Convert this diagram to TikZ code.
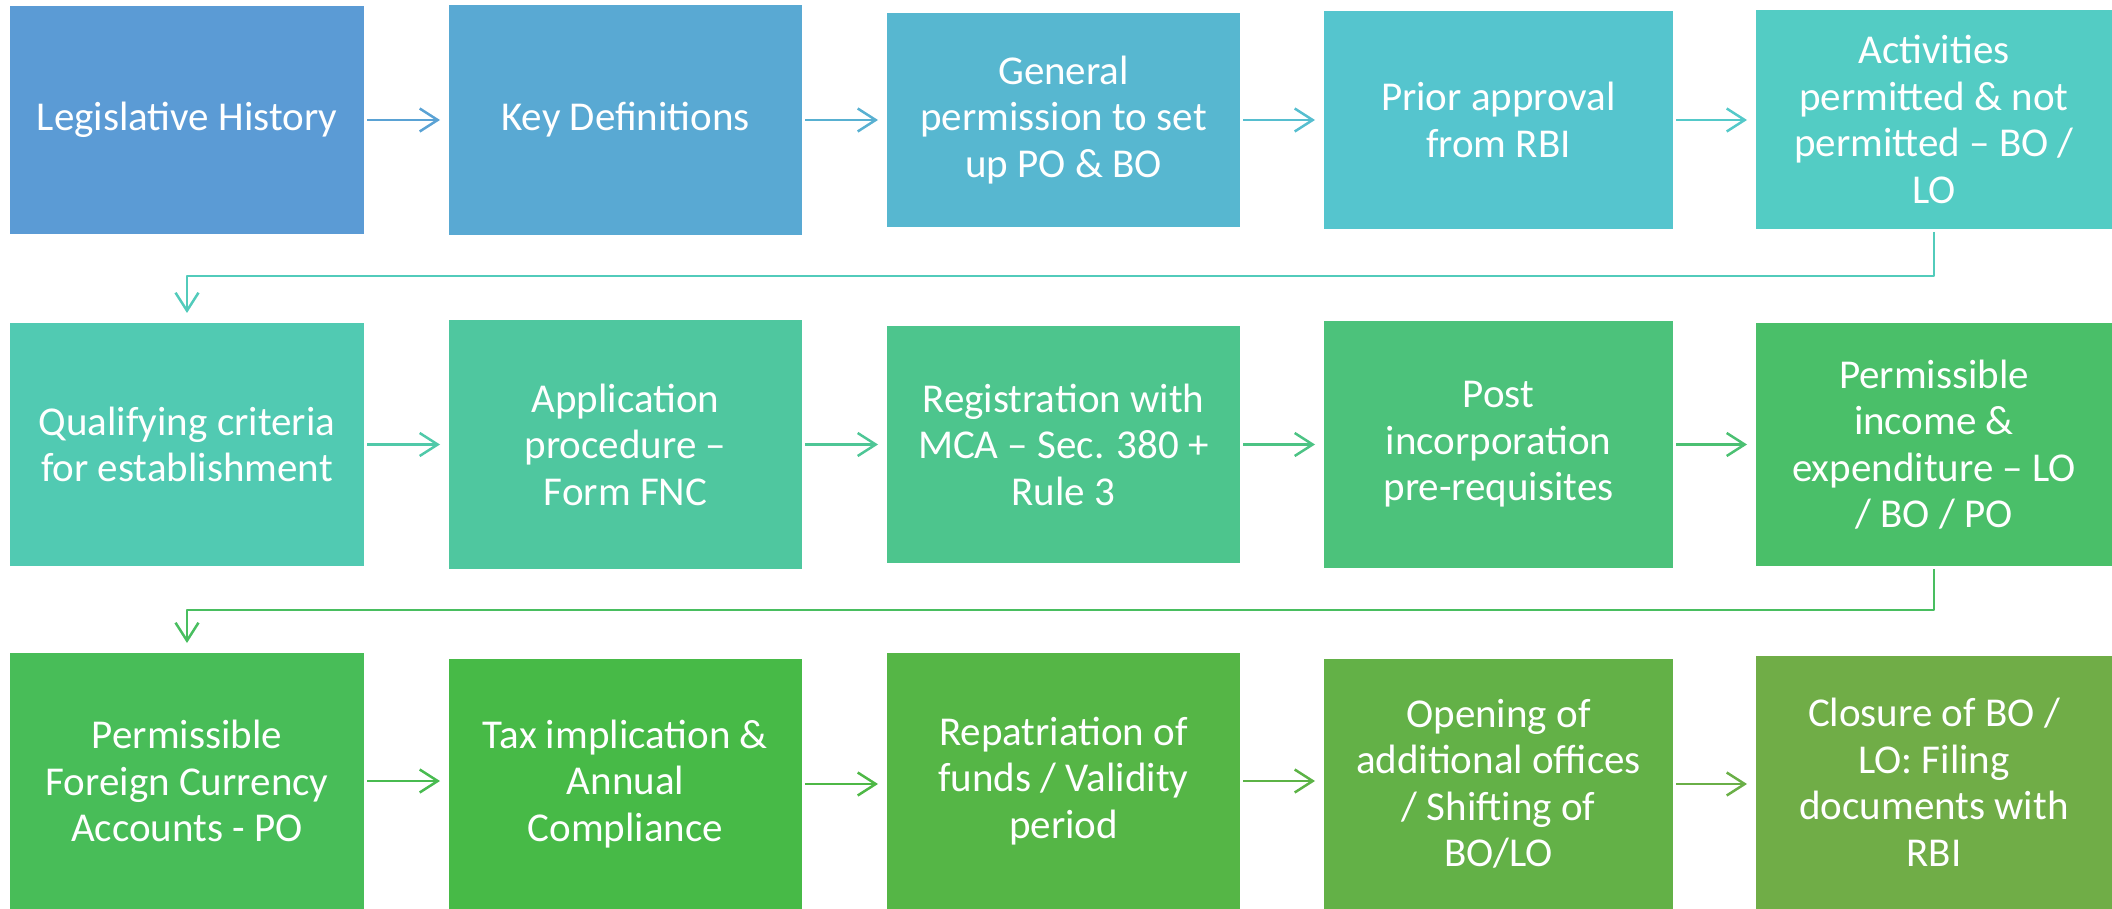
\documentclass[tikz,border=0pt]{standalone}
\usepackage{fontspec}
\setmainfont{Carlito}
\usetikzlibrary{arrows.meta}
\definecolor{c0}{HTML}{5B9BD5}
\definecolor{c1}{HTML}{59A9D3}
\definecolor{c2}{HTML}{57B7D0}
\definecolor{c3}{HTML}{55C5CE}
\definecolor{c4}{HTML}{53CCC4}
\definecolor{c5}{HTML}{51CAB2}
\definecolor{c6}{HTML}{4FC79F}
\definecolor{c7}{HTML}{4DC58D}
\definecolor{c8}{HTML}{4CC27B}
\definecolor{c9}{HTML}{4ABF69}
\definecolor{c10}{HTML}{48BD58}
\definecolor{c11}{HTML}{47BA47}
\definecolor{c12}{HTML}{55B646}
\definecolor{c13}{HTML}{63B147}
\definecolor{c14}{HTML}{70AD47}
\begin{document}
\begin{tikzpicture}[x=1pt,y=-1pt,
  box/.style={rectangle, inner sep=0pt, outer sep=0pt, text=white, align=center,
    font=\fontsize{41}{46.5}\selectfont},
  conn/.style={line width=2.5pt, line join=round,
    -{Straight Barb[length=18pt,width=23pt,line width=2.5pt]},
    shorten <=3pt, shorten >=9pt}]
\useasboundingbox (0,0) rectangle (2112,909);
% row 1
\node[box, fill=c0, minimum width=354pt, minimum height=228pt] (b1) at (187,120) {Legislative History};
\node[box, fill=c1, minimum width=353pt, minimum height=230pt] (b2) at (625.5,120) {Key Definitions};
\node[box, fill=c2, minimum width=353pt, minimum height=214pt] (b3) at (1063.5,120) {General\\permission to set\\up PO \& BO};
\node[box, fill=c3, minimum width=349pt, minimum height=218pt] (b4) at (1498.5,120) {Prior approval\\from RBI};
\node[box, fill=c4, minimum width=356pt, minimum height=219pt] (b5) at (1934,119.5) {Activities\\permitted \& not\\permitted – BO /\\LO};
% row 2
\node[box, fill=c5, minimum width=354pt, minimum height=243pt] (c1) at (187,444.5) {Qualifying criteria\\for establishment};
\node[box, fill=c6, minimum width=353pt, minimum height=249pt] (c2) at (625.5,444.5) {Application\\procedure –\\Form FNC};
\node[box, fill=c7, minimum width=353pt, minimum height=237pt] (c3) at (1063.5,444.5) {Registration with\\MCA – Sec. 380 +\\Rule 3};
\node[box, fill=c8, minimum width=349pt, minimum height=247pt] (c4) at (1498.5,444.5) {Post\\incorporation\\pre-requisites};
\node[box, fill=c9, minimum width=356pt, minimum height=243pt] (c5) at (1934,444.5) {Permissible\\income \&\\expenditure – LO\\/ BO / PO};
% row 3
\node[box, fill=c10, minimum width=354pt, minimum height=256pt] (d1) at (187,781) {Permissible\\Foreign Currency\\Accounts - PO};
\node[box, fill=c11, minimum width=353pt, minimum height=250pt] (d2) at (625.5,784) {Tax implication \&\\Annual\\Compliance};
\node[box, fill=c12, minimum width=353pt, minimum height=256pt] (d3) at (1063.5,781) {Repatriation of\\funds / Validity\\period};
\node[box, fill=c13, minimum width=349pt, minimum height=250pt] (d4) at (1498.5,784) {Opening of\\additional offices\\/ Shifting of\\BO/LO};
\node[box, fill=c14, minimum width=356pt, minimum height=253pt] (d5) at (1934,782.5) {Closure of BO /\\LO: Filing\\documents with\\RBI};
% turn levels
\coordinate (t1) at (0,276);
\coordinate (t2) at (0,610);
% row 1 arrows
\draw[conn, draw=c0!50!c1] (b1.east) -- (b1.east -| b2.west);
\draw[conn, draw=c1!50!c2] (b2.east) -- (b2.east -| b3.west);
\draw[conn, draw=c2!50!c3] (b3.east) -- (b3.east -| b4.west);
\draw[conn, draw=c3!50!c4] (b4.east) -- (b4.east -| b5.west);
\draw[conn, draw=c4!50!c5, shorten >=10pt] (b5.south) -- (b5.south |- t1) -- (c1.north |- t1) -- (c1.north);
% row 2 arrows
\draw[conn, draw=c5!50!c6] (c1.east) -- (c1.east -| c2.west);
\draw[conn, draw=c6!50!c7] (c2.east) -- (c2.east -| c3.west);
\draw[conn, draw=c7!50!c8] (c3.east) -- (c3.east -| c4.west);
\draw[conn, draw=c8!50!c9] (c4.east) -- (c4.east -| c5.west);
\draw[conn, draw=c9!50!c10, shorten >=10pt] (c5.south) -- (c5.south |- t2) -- (d1.north |- t2) -- (d1.north);
% row 3 arrows
\draw[conn, draw=c10!50!c11] (d1.east) -- (d1.east -| d2.west);
\draw[conn, draw=c11!50!c12] (d2.east) -- (d2.east -| d3.west);
\draw[conn, draw=c12!50!c13] (d3.east) -- (d3.east -| d4.west);
\draw[conn, draw=c13!50!c14] (d4.east) -- (d4.east -| d5.west);
\end{tikzpicture}
\end{document}
